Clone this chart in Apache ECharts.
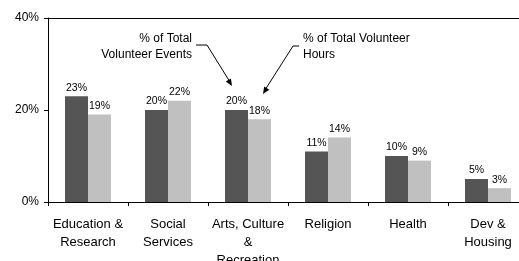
<!DOCTYPE html>
<html>
<head>
<meta charset="utf-8">
<style>
  html, body { margin: 0; padding: 0; background: #fff; }
  #chart { width: 519px; height: 261px; }
</style>
<script src="https://cdn.jsdelivr.net/npm/echarts@6/dist/echarts.min.js"></script>
</head>
<body>
<div id="chart"></div>
<script>
// data
const categories = ['Education &\nResearch', 'Social\nServices', 'Arts, Culture\n&\nRecreation', 'Religion', 'Health', 'Dev &\nHousing']
const eventsPct = [23, 20, 20, 11, 10, 5]
const hoursPct = [19, 22, 18, 14, 9, 3]
const yTicks = [0, 20, 40]

const font = '"Liberation Sans", Arial, sans-serif'

// small filled arrow head at (x,y) pointing along (dx,dy)
function arrowHead(x, y, dx, dy) {
  const len = Math.sqrt(dx * dx + dy * dy)
  const ux = dx / len, uy = dy / len
  const px = -uy, py = ux
  const L = 7, W = 3
  return {
    type: 'polygon',
    shape: { points: [[x, y], [x - ux * L + px * W, y - uy * L + py * W], [x - ux * L - px * W, y - uy * L - py * W]] },
    style: { fill: '#000' }
  }
}

const chart = echarts.init(document.getElementById('chart'), null, { renderer: 'canvas' })

const valueLabel = {
  show: true, position: 'top', distance: 3,
  color: '#000', fontFamily: font, fontSize: 10.5,
  formatter: p => p.value + '%'
}

const option = {
  animation: false,
  grid: { left: 48, right: -9, top: 18, bottom: 59, containLabel: false, outerBoundsMode: 'none' },
  xAxis: [
    {
      type: 'category',
      data: categories,
      axisLine: { lineStyle: { color: '#000', width: 1 } },
      axisTick: { show: true, length: 4, lineStyle: { color: '#000' } },
      axisLabel: {
        interval: 0,
        margin: 13,
        color: '#000',
        fontFamily: font,
        fontSize: 13,
        lineHeight: 18
      }
    },
    {
      type: 'category',
      position: 'top',
      data: categories,
      axisLine: { show: true, lineStyle: { color: '#000', width: 1 } },
      axisTick: { show: false },
      axisLabel: { show: false }
    }
  ],
  yAxis: {
    type: 'value',
    min: yTicks[0],
    max: yTicks[yTicks.length - 1],
    interval: yTicks[1] - yTicks[0],
    splitLine: { show: false },
    axisLine: { show: true, lineStyle: { color: '#000', width: 1 } },
    axisTick: { show: true, length: 4, lineStyle: { color: '#000' } },
    axisLabel: {
      margin: 9,
      color: '#000',
      fontFamily: font,
      fontSize: 12,
      formatter: v => v + '%'
    }
  },
  series: [
    {
      name: '% of Total Volunteer Events',
      type: 'bar',
      data: eventsPct,
      barWidth: 23,
      barGap: '0%',
      itemStyle: { color: '#555555' },
      label: valueLabel
    },
    {
      name: '% of Total Volunteer Hours',
      type: 'bar',
      data: hoursPct,
      barWidth: 23,
      barGap: '0%',
      itemStyle: { color: '#C0C0C0' },
      label: valueLabel
    }
  ],
  graphic: [
    {
      type: 'text', x: 192, y: 47,
      style: { text: '% of Total\nVolunteer Events', align: 'right', verticalAlign: 'middle', fill: '#000', font: '12px ' + font, lineHeight: 16 }
    },
    {
      type: 'polyline',
      shape: { points: [[196, 45], [207, 45], [230, 82]] },
      style: { stroke: '#000', lineWidth: 1, fill: null }
    },
    arrowHead(232, 86, 25, 41),
    {
      type: 'text', x: 303, y: 47,
      style: { text: '% of Total Volunteer\nHours', align: 'left', verticalAlign: 'middle', fill: '#000', font: '12px ' + font, lineHeight: 16 }
    },
    {
      type: 'polyline',
      shape: { points: [[299, 46], [293, 46], [265, 90]] },
      style: { stroke: '#000', lineWidth: 1, fill: null }
    },
    arrowHead(263, 94, -30, 48)
  ]
}

chart.setOption(option)
</script>
</body>
</html>
